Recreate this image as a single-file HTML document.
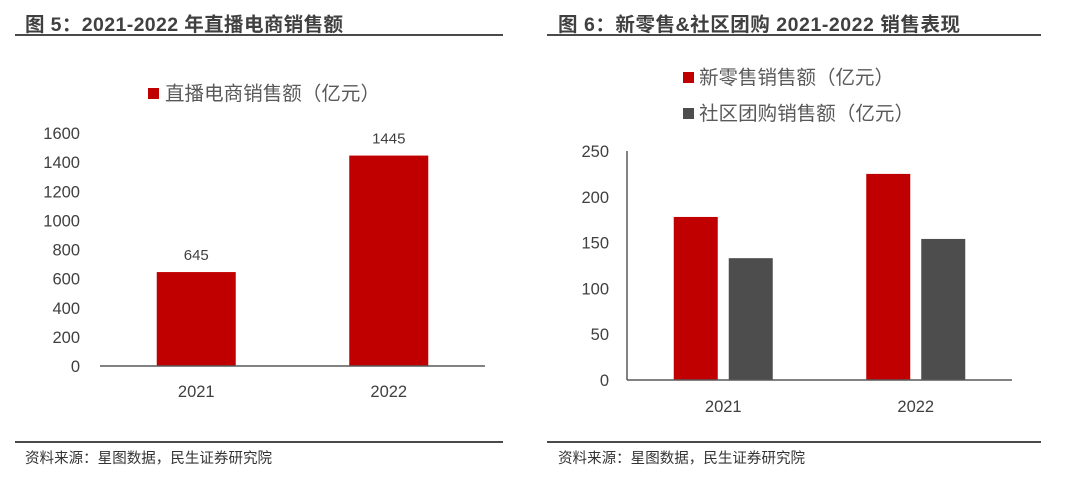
<!DOCTYPE html>
<html><head><meta charset="utf-8"><style>
body{margin:0;background:#fff;width:1074px;height:484px;overflow:hidden}
svg{display:block;font-family:"Liberation Sans","Noto Sans CJK SC",sans-serif}
</style></head><body>
<svg id="s" width="1074" height="484">
<g>
<text x="25" y="31" font-size="19.5" font-weight="bold" fill="#404040" textLength="318">图 5：2021-2022 年直播电商销售额</text>
<rect x="15" y="34" width="488" height="2" fill="#4a4a4a"/>
<rect x="148" y="88" width="11" height="11" fill="#c00000"/>
<text x="165" y="100" font-size="19.5" fill="#595959" textLength="215">直播电商销售额（亿元）</text>
<g id="lc"></g>
<rect x="15" y="441" width="488" height="2" fill="#4a4a4a"/>
<text x="25" y="463" font-size="14.5" fill="#333" textLength="247">资料来源：星图数据，民生证券研究院</text>
</g>
<g>
<text x="558" y="31" font-size="19.5" font-weight="bold" fill="#404040" textLength="402">图 6：新零售&amp;社区团购 2021-2022 销售表现</text>
<rect x="547" y="34" width="494" height="2" fill="#4a4a4a"/>
<rect x="683" y="72" width="11" height="11" fill="#c00000"/>
<text x="699" y="84" font-size="19.5" fill="#595959" textLength="195">新零售销售额（亿元）</text>
<rect x="683" y="108" width="11" height="11" fill="#4d4d4d"/>
<text x="699" y="120" font-size="19.5" fill="#595959" textLength="215">社区团购销售额（亿元）</text>
<g id="rc"></g>
<rect x="547" y="441" width="494" height="2" fill="#4a4a4a"/>
<text x="558" y="463" font-size="14.5" fill="#333" textLength="247">资料来源：星图数据，民生证券研究院</text>
</g>
</svg>
<script>
const leftCats=["2021","2022"];
const leftVals=[645,1445];
const leftTicks=[0,200,400,600,800,1000,1200,1400,1600];
const rightCats=["2021","2022"];
const newRetail=[178,225];
const groupBuy=[133,154];
const rightTicks=[0,50,100,150,200,250];
const NS="http://www.w3.org/2000/svg";
function mk(p,t,a){const e=document.createElementNS(NS,t);for(const k in a)e.setAttribute(k,a[k]);p.appendChild(e);return e;}
(function(){
const g=document.getElementById('lc');
const x0=100,x1=485,y0=366,y1=133,max=1600;
const y=v=>y0-(v/max)*(y0-y1);
leftTicks.forEach(t=>{const e=mk(g,'text',{x:x0-20,y:y(t)+6,'text-anchor':'end','font-size':16.5,fill:'#404040'});e.textContent=t;

});
const step=(x1-x0)/leftCats.length,bw=79;
leftCats.forEach((c,i)=>{const cx=x0+step*(i+0.5);
const r=mk(g,'rect',{x:cx-bw/2,y:y(leftVals[i]),width:bw,height:y0-y(leftVals[i]),fill:'#c00000'});


const l=mk(g,'text',{x:cx,y:y(leftVals[i])-12,'text-anchor':'middle','font-size':15,fill:'#404040'});l.textContent=leftVals[i];


const t=mk(g,'text',{x:cx,y:y0+31,'text-anchor':'middle','font-size':16.5,fill:'#404040'});t.textContent=c;

});
const a=mk(g,'line',{x1:x0,y1:y0,x2:x1,y2:y0,stroke:'#595959','stroke-width':1.5});


})();
(function(){
const g=document.getElementById('rc');
const x0=627,x1=1012,y0=380,y1=151,max=250;
const y=v=>y0-(v/max)*(y0-y1);
rightTicks.forEach(t=>{const e=mk(g,'text',{x:x0-18,y:y(t)+6,'text-anchor':'end','font-size':16.5,fill:'#404040'});e.textContent=t;

});
const step=(x1-x0)/rightCats.length,bw=44;
rightCats.forEach((c,i)=>{const cx=x0+step*(i+0.5);
const r1=mk(g,'rect',{x:cx-bw-5.5,y:y(newRetail[i]),width:bw,height:y0-y(newRetail[i]),fill:'#c00000'});


const r2=mk(g,'rect',{x:cx+5.5,y:y(groupBuy[i]),width:bw,height:y0-y(groupBuy[i]),fill:'#4d4d4d'});


const t=mk(g,'text',{x:cx,y:y0+32,'text-anchor':'middle','font-size':16.5,fill:'#404040'});t.textContent=c;

});
const a=mk(g,'line',{x1:x0,y1:y0,x2:x1,y2:y0,stroke:'#595959','stroke-width':1.5});


const b=mk(g,'line',{x1:x0,y1:y0,x2:x0,y2:y1,stroke:'#595959','stroke-width':1.5});


})();
</script>
</body></html>
